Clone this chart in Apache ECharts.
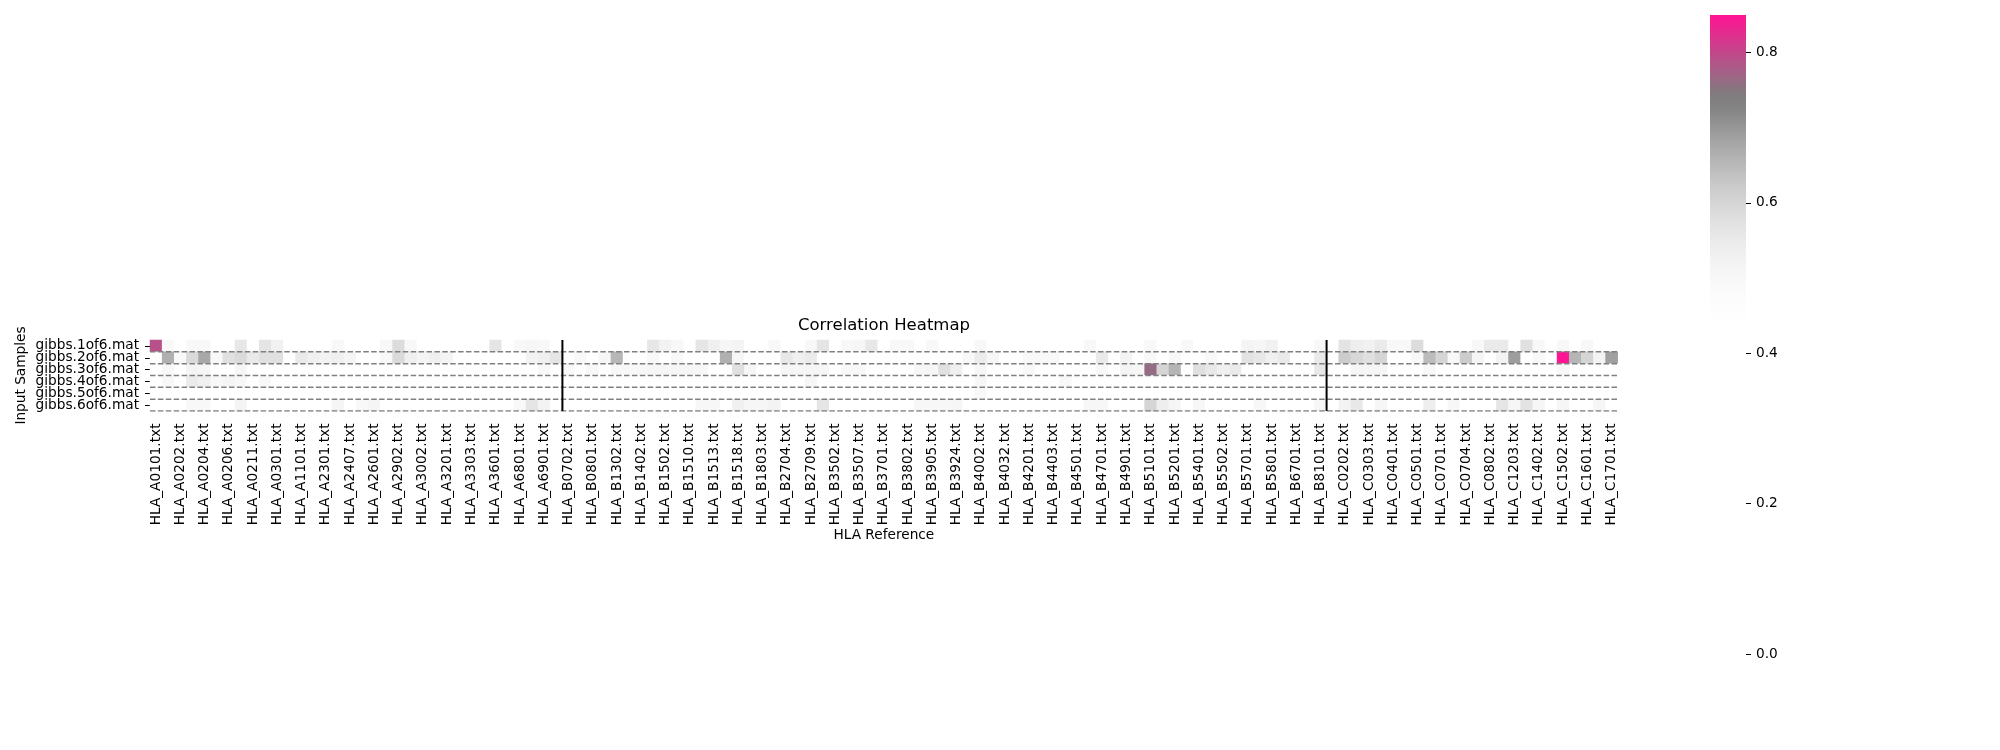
<!DOCTYPE html>
<html>
<head>
<meta charset="utf-8">
<script src="https://cdn.jsdelivr.net/npm/echarts@6/dist/echarts.min.js"></script>
<style>
html,body{margin:0;padding:0;background:#ffffff;}
#chart{width:2000px;height:750px;}
</style>
</head>
<body>
<div id="chart"></div>
<script>
// ---------------- DATA ----------------
const references = [
  'HLA_A0101.txt','HLA_A0201.txt','HLA_A0202.txt','HLA_A0203.txt','HLA_A0204.txt','HLA_A0205.txt','HLA_A0206.txt','HLA_A0207.txt','HLA_A0211.txt','HLA_A0217.txt',
  'HLA_A0301.txt','HLA_A0302.txt','HLA_A1101.txt','HLA_A1102.txt','HLA_A2301.txt','HLA_A2402.txt','HLA_A2407.txt','HLA_A2501.txt','HLA_A2601.txt','HLA_A2901.txt',
  'HLA_A2902.txt','HLA_A3001.txt','HLA_A3002.txt','HLA_A3101.txt','HLA_A3201.txt','HLA_A3301.txt','HLA_A3303.txt','HLA_A3401.txt','HLA_A3601.txt','HLA_A6601.txt',
  'HLA_A6801.txt','HLA_A6802.txt','HLA_A6901.txt','HLA_A8001.txt',
  'HLA_B0702.txt','HLA_B0705.txt','HLA_B0801.txt','HLA_B1301.txt','HLA_B1302.txt','HLA_B1401.txt','HLA_B1402.txt','HLA_B1501.txt','HLA_B1502.txt','HLA_B1503.txt',
  'HLA_B1510.txt','HLA_B1512.txt','HLA_B1513.txt','HLA_B1517.txt','HLA_B1518.txt','HLA_B1801.txt','HLA_B1803.txt','HLA_B2702.txt','HLA_B2704.txt','HLA_B2705.txt',
  'HLA_B2709.txt','HLA_B3501.txt','HLA_B3502.txt','HLA_B3503.txt','HLA_B3507.txt','HLA_B3508.txt','HLA_B3701.txt','HLA_B3801.txt','HLA_B3802.txt','HLA_B3901.txt',
  'HLA_B3905.txt','HLA_B3906.txt','HLA_B3924.txt','HLA_B4001.txt','HLA_B4002.txt','HLA_B4006.txt','HLA_B4032.txt','HLA_B4101.txt','HLA_B4201.txt','HLA_B4402.txt',
  'HLA_B4403.txt','HLA_B4405.txt','HLA_B4501.txt','HLA_B4601.txt','HLA_B4701.txt','HLA_B4801.txt','HLA_B4901.txt','HLA_B5001.txt','HLA_B5101.txt','HLA_B5108.txt',
  'HLA_B5201.txt','HLA_B5301.txt','HLA_B5401.txt','HLA_B5501.txt','HLA_B5502.txt','HLA_B5601.txt','HLA_B5701.txt','HLA_B5703.txt','HLA_B5801.txt','HLA_B5802.txt',
  'HLA_B6701.txt','HLA_B7301.txt','HLA_B8101.txt',
  'HLA_C0102.txt','HLA_C0202.txt','HLA_C0302.txt','HLA_C0303.txt','HLA_C0304.txt','HLA_C0401.txt','HLA_C0403.txt','HLA_C0501.txt','HLA_C0602.txt','HLA_C0701.txt',
  'HLA_C0702.txt','HLA_C0704.txt','HLA_C0801.txt','HLA_C0802.txt','HLA_C1202.txt','HLA_C1203.txt','HLA_C1205.txt','HLA_C1402.txt','HLA_C1403.txt','HLA_C1502.txt',
  'HLA_C1505.txt','HLA_C1601.txt','HLA_C1602.txt','HLA_C1701.txt'
];
const groupSizes = [34, 63, 24];   // HLA-A, HLA-B, HLA-C references

const samples = ['gibbs.1of6.mat','gibbs.2of6.mat','gibbs.3of6.mat','gibbs.4of6.mat','gibbs.5of6.mat','gibbs.6of6.mat'];

const gibbs1 = [
  0.79,0.50,0.40,0.50,0.50,0.40,0.40,0.56,0.40,0.565,
  0.53,0.40,0.40,0.40,0.40,0.50,0.40,0.40,0.40,0.50,
  0.585,0.50,0.40,0.40,0.40,0.40,0.40,0.40,0.565,0.40,
  0.50,0.51,0.50,0.40,0.40,0.40,0.40,0.40,0.40,0.40,
  0.40,0.56,0.525,0.50,0.40,0.565,0.535,0.51,0.52,0.40,
  0.40,0.50,0.40,0.40,0.50,0.565,0.40,0.50,0.51,0.56,
  0.40,0.50,0.50,0.40,0.50,0.40,0.40,0.40,0.50,0.40,
  0.40,0.40,0.40,0.40,0.40,0.40,0.40,0.50,0.40,0.40,
  0.40,0.40,0.50,0.40,0.40,0.50,0.40,0.40,0.40,0.40,
  0.52,0.51,0.53,0.40,0.40,0.40,0.50,0.40,0.57,0.54,
  0.53,0.55,0.50,0.50,0.585,0.40,0.40,0.40,0.40,0.50,
  0.55,0.55,0.40,0.577,0.50,0.40,0.50,0.40,0.50,0.40,
  0.40
];
const gibbs2 = [
  0.40,0.665,0.50,0.59,0.676,0.50,0.577,0.59,0.55,0.577,
  0.577,0.40,0.55,0.533,0.522,0.533,0.514,0.40,0.40,0.50,
  0.59,0.533,0.514,0.533,0.514,0.40,0.40,0.40,0.40,0.40,
  0.40,0.522,0.533,0.565,0.40,0.50,0.40,0.51,0.653,0.40,
  0.40,0.50,0.40,0.50,0.40,0.40,0.40,0.665,0.51,0.40,
  0.40,0.40,0.557,0.533,0.549,0.40,0.40,0.40,0.40,0.40,
  0.40,0.40,0.40,0.40,0.40,0.40,0.40,0.50,0.545,0.51,
  0.40,0.40,0.50,0.50,0.50,0.40,0.40,0.40,0.55,0.40,
  0.52,0.40,0.50,0.40,0.50,0.40,0.40,0.50,0.40,0.40,
  0.57,0.557,0.533,0.55,0.40,0.40,0.55,0.40,0.619,0.595,
  0.577,0.60,0.40,0.40,0.50,0.645,0.60,0.50,0.619,0.514,
  0.40,0.522,0.692,0.40,0.50,0.40,0.85,0.657,0.60,0.522,
  0.687
];
const gibbs3 = [
  0.40,0.50,0.40,0.52,0.51,0.40,0.40,0.51,0.40,0.40,
  0.40,0.40,0.40,0.40,0.40,0.40,0.40,0.40,0.40,0.40,
  0.40,0.40,0.40,0.40,0.40,0.40,0.40,0.40,0.40,0.40,
  0.40,0.40,0.50,0.40,0.50,0.40,0.50,0.40,0.50,0.50,
  0.505,0.51,0.51,0.51,0.51,0.505,0.40,0.40,0.577,0.51,
  0.40,0.40,0.51,0.51,0.51,0.51,0.40,0.50,0.50,0.40,
  0.40,0.40,0.40,0.505,0.51,0.577,0.533,0.40,0.51,0.40,
  0.40,0.40,0.50,0.40,0.40,0.40,0.40,0.40,0.50,0.40,
  0.52,0.51,0.762,0.60,0.657,0.40,0.577,0.557,0.533,0.549,
  0.40,0.40,0.40,0.40,0.40,0.40,0.557,0.40,0.40,0.51,
  0.51,0.51,0.40,0.40,0.40,0.50,0.40,0.40,0.40,0.40,
  0.40,0.40,0.40,0.40,0.40,0.40,0.50,0.40,0.40,0.40,
  0.40
];
const gibbs4 = [
  0.40,0.50,0.40,0.549,0.533,0.50,0.514,0.50,0.40,0.50,
  0.40,0.40,0.40,0.40,0.40,0.40,0.40,0.40,0.40,0.40,
  0.40,0.40,0.40,0.40,0.40,0.40,0.40,0.40,0.40,0.40,
  0.40,0.40,0.40,0.40,0.40,0.40,0.40,0.40,0.40,0.40,
  0.40,0.40,0.40,0.40,0.40,0.40,0.40,0.40,0.40,0.40,
  0.40,0.40,0.40,0.40,0.505,0.40,0.40,0.40,0.40,0.40,
  0.40,0.40,0.40,0.40,0.40,0.40,0.40,0.40,0.505,0.40,
  0.40,0.40,0.40,0.40,0.40,0.50,0.40,0.40,0.40,0.40,
  0.40,0.40,0.40,0.40,0.40,0.40,0.40,0.40,0.40,0.40,
  0.40,0.40,0.40,0.40,0.40,0.40,0.40,0.40,0.40,0.40,
  0.40,0.40,0.40,0.40,0.40,0.40,0.40,0.40,0.40,0.40,
  0.40,0.40,0.40,0.40,0.40,0.40,0.40,0.40,0.40,0.40,
  0.40
];
const gibbs5 = [
  0.40,0.40,0.40,0.40,0.40,0.40,0.40,0.40,0.40,0.40,
  0.40,0.40,0.40,0.40,0.40,0.40,0.40,0.40,0.40,0.40,
  0.40,0.40,0.40,0.40,0.40,0.40,0.40,0.40,0.40,0.40,
  0.40,0.40,0.40,0.40,0.40,0.40,0.40,0.40,0.40,0.40,
  0.40,0.40,0.40,0.40,0.40,0.40,0.40,0.40,0.40,0.40,
  0.40,0.40,0.40,0.40,0.40,0.40,0.40,0.40,0.40,0.40,
  0.40,0.40,0.40,0.40,0.40,0.40,0.40,0.40,0.50,0.40,
  0.40,0.40,0.40,0.40,0.40,0.40,0.40,0.40,0.40,0.40,
  0.40,0.40,0.40,0.40,0.40,0.40,0.40,0.40,0.40,0.40,
  0.40,0.40,0.40,0.40,0.40,0.40,0.40,0.40,0.40,0.40,
  0.40,0.40,0.40,0.40,0.40,0.40,0.40,0.40,0.40,0.40,
  0.40,0.40,0.40,0.40,0.40,0.40,0.40,0.40,0.40,0.40,
  0.40
];
const gibbs6 = [
  0.40,0.40,0.40,0.50,0.50,0.40,0.40,0.52,0.40,0.40,
  0.40,0.40,0.40,0.40,0.40,0.514,0.40,0.50,0.514,0.40,
  0.40,0.40,0.40,0.40,0.40,0.40,0.40,0.40,0.40,0.40,
  0.50,0.565,0.522,0.40,0.40,0.40,0.40,0.40,0.40,0.40,
  0.40,0.40,0.40,0.40,0.40,0.505,0.505,0.40,0.533,0.51,
  0.51,0.522,0.40,0.40,0.40,0.565,0.40,0.40,0.40,0.40,
  0.40,0.40,0.40,0.505,0.505,0.505,0.51,0.40,0.40,0.40,
  0.40,0.40,0.40,0.40,0.40,0.40,0.40,0.505,0.505,0.40,
  0.40,0.40,0.60,0.54,0.51,0.40,0.505,0.40,0.40,0.40,
  0.40,0.505,0.40,0.40,0.40,0.40,0.51,0.40,0.522,0.557,
  0.40,0.51,0.40,0.40,0.40,0.54,0.40,0.505,0.40,0.40,
  0.40,0.565,0.51,0.57,0.51,0.40,0.51,0.40,0.40,0.51,
  0.40
];

const colorbarTicks = [0, 0.2, 0.4, 0.6, 0.8];
const colorbarMin = 0.431;
const colorbarMax = 0.85;
// colormap: white -> gray -> deeppink (sampled at evenly spaced values)
const cmapColors = ['#ffffff','#fefefe','#fcfcfc','#f9f9f9','#f5f5f5','#efefef','#e8e8e8','#e0e0e0','#d6d6d6','#cccccc',
  '#bfbfbf','#b2b2b2','#a4a4a4','#949494','#858585','#817b7f','#9a6884','#b35489','#cd3e8c','#e6298f','#ff1493'];

// ---------------- BUILD ----------------
const rows = [gibbs1, gibbs2, gibbs3, gibbs4, gibbs5, gibbs6];
const heat = [];
rows.forEach((r, yi) => r.forEach((v, xi) => heat.push([xi, yi, v])));

const nCols = references.length;
const nRows = samples.length;

const FONT = 'DejaVu Sans';
const series = [{
  type: 'heatmap', xAxisIndex: 0, yAxisIndex: 0, data: heat,
  itemStyle: { borderWidth: 0 }, emphasis: { disabled: true }, silent: true, z: 2
}];
// dashed row separators (below each row)
for (let k = 1; k <= nRows; k++) {
  series.push({
    type: 'line', xAxisIndex: 1, yAxisIndex: 1, data: [[0, k], [nCols, k]],
    symbol: 'none', silent: true, z: 3, animation: false,
    lineStyle: { color: '#808080', width: 1.5, type: [5.5, 2.4] }
  });
}
// solid group separators
let acc = 0;
groupSizes.slice(0, -1).forEach(g => {
  acc += g;
  series.push({
    type: 'line', xAxisIndex: 1, yAxisIndex: 1, data: [[acc, 0], [acc, nRows]],
    symbol: 'none', silent: true, z: 4, animation: false,
    lineStyle: { color: '#000000', width: 2 }
  });
});
// colorbar
const stops = cmapColors.map((c, i) => ({ offset: 1 - i / (cmapColors.length - 1), color: c })).reverse();
series.push({
  type: 'bar', xAxisIndex: 2, yAxisIndex: 2, stack: 'cb', data: [colorbarMin],
  barWidth: '100%', silent: true, itemStyle: { color: 'rgba(0,0,0,0)' }
});
series.push({
  type: 'bar', xAxisIndex: 2, yAxisIndex: 2, stack: 'cb', data: [colorbarMax - colorbarMin],
  barWidth: '100%', silent: true,
  itemStyle: { color: new echarts.graphic.LinearGradient(0, 0, 0, 1, stops) }
});

const chart = echarts.init(document.getElementById('chart'), null, { renderer: 'canvas' });
chart.setOption({
  animation: false,
  backgroundColor: '#ffffff',
  textStyle: { fontFamily: FONT },
  title: {
    text: 'Correlation Heatmap', left: 884, top: 317, textAlign: 'center', padding: 0,
    textStyle: { fontSize: 16.5, fontWeight: 'normal', color: '#000', fontFamily: FONT }
  },
  grid: [
    { left: 150, top: 340, width: 1467.7, height: 71, outerBoundsMode: 'none', containLabel: false },
    { left: 1710, top: 15, width: 36, height: 639, outerBoundsMode: 'none', containLabel: false }
  ],
  xAxis: [
    {
      type: 'category', gridIndex: 0, data: references,
      axisLine: { show: false }, splitLine: { show: false },
      axisTick: { show: true, interval: 1, alignWithLabel: true, length: 5, lineStyle: { color: '#000', width: 1 } },
      axisLabel: { interval: 1, rotate: 90, fontSize: 13.7, color: '#000', margin: 12.5, fontFamily: FONT },
      name: 'HLA Reference', nameLocation: 'middle', nameGap: 117, nameMoveOverlap: false,
      nameTextStyle: { fontSize: 13.7, color: '#000', fontFamily: FONT }
    },
    { type: 'value', gridIndex: 0, min: 0, max: nCols, show: false },
    { type: 'category', gridIndex: 1, data: [''], show: false }
  ],
  yAxis: [
    {
      type: 'category', gridIndex: 0, data: samples, inverse: true,
      axisLine: { show: false }, splitLine: { show: false },
      axisTick: { show: true, interval: 0, alignWithLabel: true, length: 5, lineStyle: { color: '#000', width: 1 } },
      axisLabel: { interval: 0, fontSize: 13.7, color: '#000', margin: 11, fontFamily: FONT },
      name: 'Input Samples', nameLocation: 'middle', nameGap: 122, nameRotate: 90, nameMoveOverlap: false,
      nameTextStyle: { fontSize: 13.7, color: '#000', fontFamily: FONT }
    },
    { type: 'value', gridIndex: 0, min: 0, max: nRows, inverse: true, show: false },
    {
      type: 'value', gridIndex: 1, min: 0, max: colorbarMax, interval: 0.2, position: 'right',
      axisLine: { show: false }, splitLine: { show: false },
      axisTick: { show: true, length: 5, customValues: colorbarTicks, lineStyle: { color: '#000', width: 1 } },
      axisLabel: { customValues: colorbarTicks, formatter: v => Number(v).toFixed(1),
                   fontSize: 13.7, color: '#000', margin: 10, fontFamily: FONT }
    }
  ],
  visualMap: {
    type: 'continuous', show: false, seriesIndex: 0, dimension: 2,
    min: colorbarMin, max: colorbarMax,
    inRange: { color: cmapColors }, outOfRange: { color: ['#ffffff'] }
  },
  series: series
});
</script>
</body>
</html>
